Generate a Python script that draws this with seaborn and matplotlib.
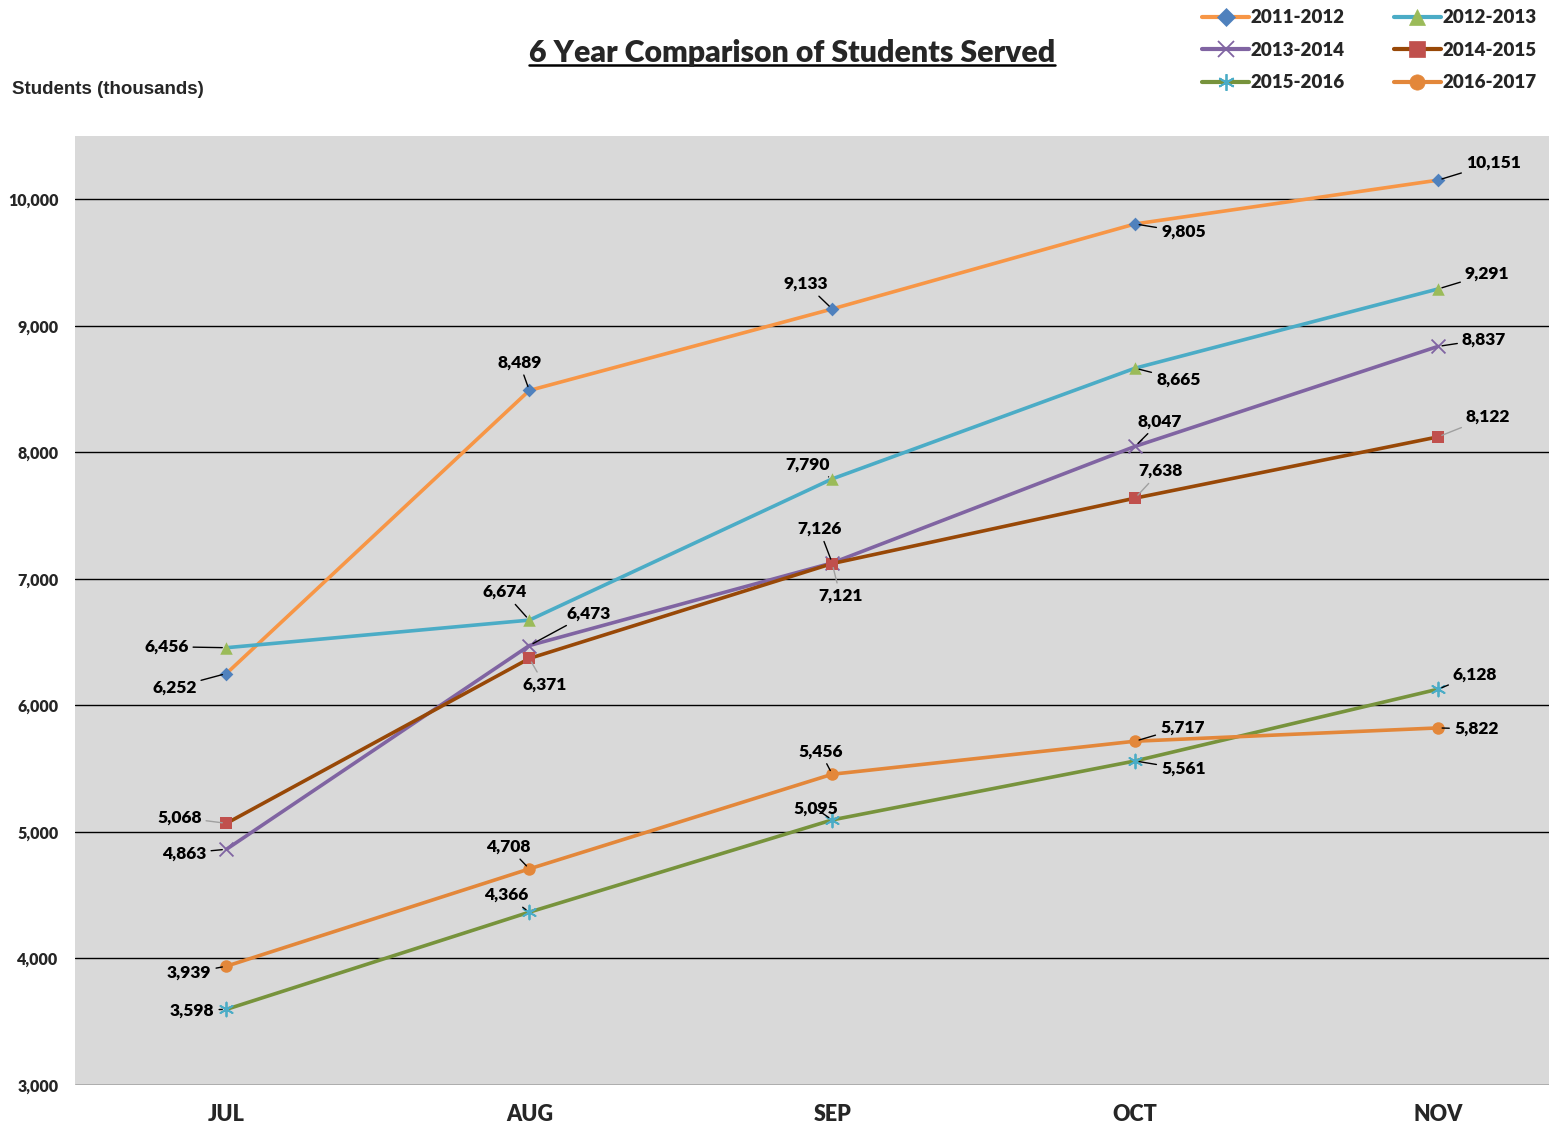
import matplotlib
matplotlib.use("Agg")
import matplotlib.pyplot as plt
from matplotlib.lines import Line2D
import seaborn as sns
import pandas as pd

# ---- data -------------------------------------------------------------
months = ["JUL", "AUG", "SEP", "OCT", "NOV"]
seasons = ["2011-2012", "2012-2013", "2013-2014", "2014-2015", "2015-2016", "2016-2017"]
s2011_2012 = [6252, 8489, 9133, 9805, 10151]
s2012_2013 = [6456, 6674, 7790, 8665, 9291]
s2013_2014 = [4863, 6473, 7126, 8047, 8837]
s2014_2015 = [5068, 6371, 7121, 7638, 8122]
s2015_2016 = [3598, 4366, 5095, 5561, 6128]
s2016_2017 = [3939, 4708, 5456, 5717, 5822]
yticks = [3000, 4000, 5000, 6000, 7000, 8000, 9000, 10000]

values = [s2011_2012, s2012_2013, s2013_2014, s2014_2015, s2015_2016, s2016_2017]

# ---- styles -----------------------------------------------------------
line_colors = ["#F79646", "#4BACC6", "#8064A2", "#984807", "#77933C", "#E3873A"]
marker_colors = ["#4F81BD", "#9BBB59", "#8064A2", "#C0504D", "#4BACC6", "#E3873A"]
markers = ["D", "^", "x", "s", (6, 2, 0), "o"]
marker_sizes = [7, 9, 10, 9, 10, 9]
leader_colors = ["black", "black", "black", "#A0A0A0", "black", "black"]

# label offsets in pixels (dx, dy) and horizontal alignment per point
label_pos = [
    [(-30, -14, "right"), (-10, 28, "center"), (-26, 25, "center"), (26, -8, "left"), (28, 17, "left")],
    [(-38, 1, "right"), (-25, 28, "center"), (-25, 14, "center"), (21, -11, "left"), (27, 15, "left")],
    [(-20, -4, "right"), (37, 32, "left"), (-13, 34, "center"), (25, 25, "center"), (24, 7, "left")],
    [(-25, 6, "right"), (15, -26, "center"), (8, -32, "center"), (25, 27, "center"), (28, 20, "left")],
    [(-12, -1, "right"), (-23, 17, "center"), (-16, 11, "center"), (26, -8, "left"), (15, 15, "left")],
    [(-15, -7, "right"), (-21, 22, "center"), (-12, 23, "center"), (25, 14, "left"), (16, -1, "left")],
]

sns.set_theme(style="white")
plt.rcParams["font.family"] = ["Lato", "DejaVu Sans"]

fig = plt.figure(figsize=(15.49, 11.29), dpi=100)
W, H = 1549, 1129
ax = fig.add_axes([75 / W, 1 - 1085 / H, (1549 - 75) / W, (1085 - 136) / H])
ax.set_facecolor("#D9D9D9")

df = pd.DataFrame(
    [(m, i, s, v) for s, vals in zip(seasons, values) for i, (m, v) in enumerate(zip(months, vals))],
    columns=["month", "pos", "season", "students"],
)

handles = []
for k, s in enumerate(seasons):
    sub = df[df["season"] == s]
    sns.lineplot(data=sub, x="pos", y="students", ax=ax, color=line_colors[k], lw=2.6,
                 legend=False, zorder=3)
    mk = markers[k]
    thin = mk in ("x",) or isinstance(mk, tuple)
    mew = 1.3 if thin else 0
    sns.scatterplot(data=sub, x="pos", y="students", ax=ax, marker=mk,
                    s=marker_sizes[k] ** 2, color=marker_colors[k], edgecolor=marker_colors[k],
                    linewidth=mew, legend=False, zorder=4)
    handles.append(Line2D([0], [0], color=line_colors[k], lw=3, marker=mk,
                          markersize=marker_sizes[k] + 2, markerfacecolor=marker_colors[k],
                          markeredgecolor=marker_colors[k], markeredgewidth=max(mew, 0.5)))
    for i, (m, v) in enumerate(zip(months, values[k])):
        dx, dy, ha = label_pos[k][i]
        ax.annotate(f"{v:,}", xy=(i, v), xytext=(dx, dy), textcoords="offset pixels",
                    ha=ha, va="center", fontsize=12.5, fontweight="heavy", color="black",
                    arrowprops=dict(arrowstyle="-", color=leader_colors[k], lw=1,
                                    shrinkA=1, shrinkB=3),
                    zorder=6)

ax.set_xlim(-0.5, 4 + 111 / 302.75)
ax.set_ylim(3000, 10500)
ax.set_yticks(yticks)
ax.set_yticklabels([f"{t:,}" for t in yticks], fontsize=11.5, fontweight="heavy")
ax.set_xticks(range(len(months)))
ax.set_xticklabels(months, fontsize=15.5, fontweight="heavy")
ax.tick_params(axis="x", pad=14, length=0)
ax.tick_params(axis="y", pad=12, length=0)
ax.yaxis.grid(True, color="black", lw=1)
ax.set_axisbelow(True)
for sp in ax.spines.values():
    sp.set_visible(False)
ax.set_xlabel("")
ax.set_ylabel("")

fig.text(12 / W, 1 - 89 / H, "Students (thousands)", fontsize=13.5, fontweight="bold",
         family=["Liberation Sans", "DejaVu Sans"], va="center", ha="left")

title = fig.text(792 / W, 1 - 53 / H, "6 Year Comparison of Students Served",
                 fontsize=21.8, fontweight="heavy", ha="center", va="center")

# legend, filled row by row
order = [0, 2, 4, 1, 3, 5]
fig.legend([handles[i] for i in order], [seasons[i] for i in order], ncol=2,
           loc="upper right", bbox_to_anchor=(1546 / W, 1 + 0 / H), frameon=False,
           borderaxespad=0.2, borderpad=0.3,
           prop=dict(family="Lato", weight="heavy", size=13.5), handlelength=2.5,
           handletextpad=0.1, columnspacing=2.6, labelspacing=0.82)

# underline the title
fig.canvas.draw()
bb = title.get_window_extent(fig.canvas.get_renderer())
inv = fig.transFigure.inverted()
(x0, y0), (x1, y1) = inv.transform([(bb.x0, bb.y0), (bb.x1, bb.y1)])
fig.add_artist(Line2D([x0, x1], [y0 + 2 / H, y0 + 2 / H], color="black", lw=1.8,
                      transform=fig.transFigure))

fig.savefig("out.png", dpi=100)
